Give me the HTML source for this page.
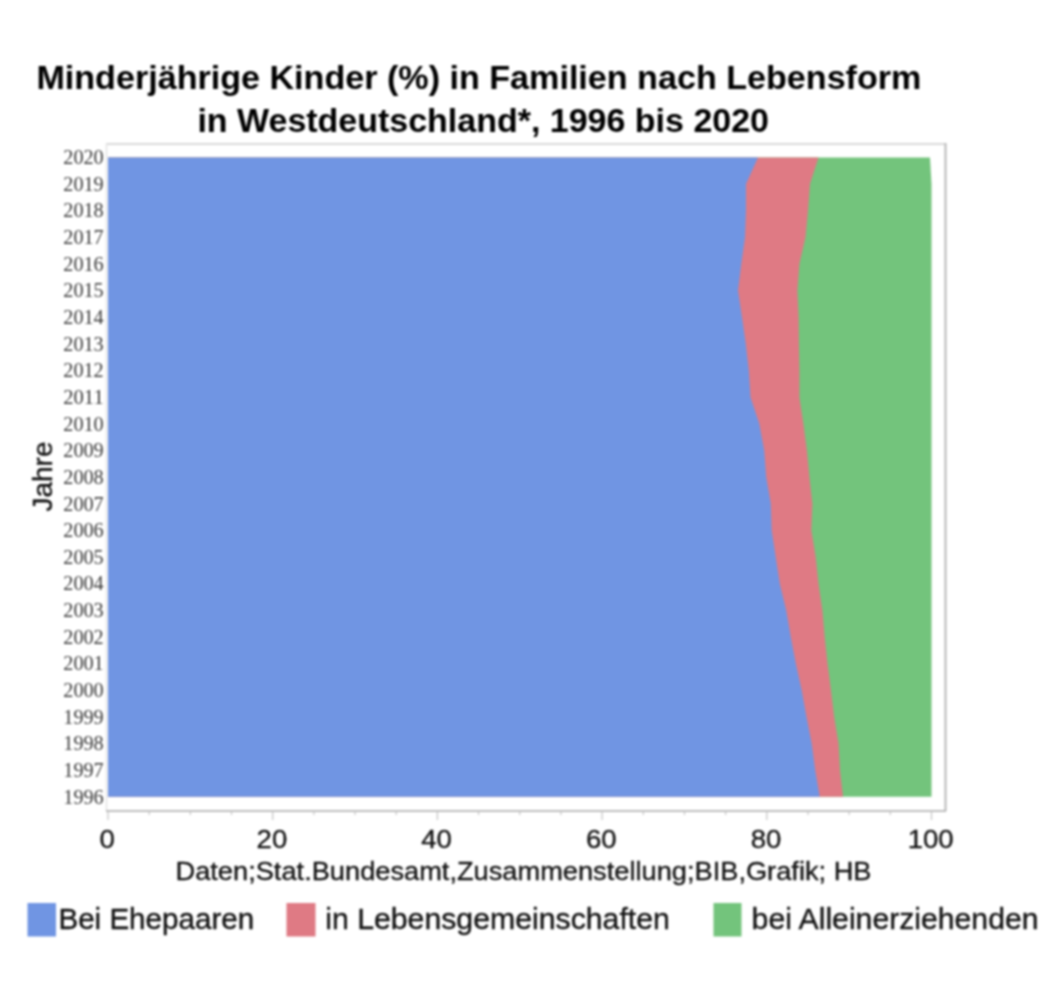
<!DOCTYPE html>
<html><head><meta charset="utf-8">
<style>
html,body{margin:0;padding:0;background:#fff;}
body{width:1062px;height:1008px;overflow:hidden;}
svg{display:block;filter:blur(0.9px);}
text{font-family:"Liberation Sans",sans-serif;}
.title{font-weight:bold;font-size:33px;fill:#000;}
.yr{font-family:"Liberation Serif",serif;font-size:20px;fill:#3a3a3a;}
.xl{font-size:26.5px;fill:#111;stroke:#111;stroke-width:0.3px;}
.note{font-size:26px;fill:#111;stroke:#111;stroke-width:0.3px;}
.lg{font-size:30px;fill:#111;stroke:#111;stroke-width:0.35px;}
</style></head>
<body>
<svg width="1062" height="1008" viewBox="0 0 1062 1008">
<rect x="0" y="0" width="1062" height="1008" fill="#fff"/>
<text class="title" x="36.40" y="89" textLength="885.00" lengthAdjust="spacingAndGlyphs" style="">Minderjährige Kinder (%) in Familien nach Lebensform</text>
<text class="title" x="197.40" y="132" textLength="571.60" lengthAdjust="spacingAndGlyphs" style="">in Westdeutschland*, 1996 bis 2020</text>
<line x1="106" y1="144" x2="946" y2="144" stroke="#d9d9d9" stroke-width="2"/>
<line x1="106.5" y1="143" x2="106.5" y2="811" stroke="#e4e4e4" stroke-width="1.5"/>
<line x1="945.5" y1="143" x2="945.5" y2="811" stroke="#b8b8b8" stroke-width="2"/>
<polygon points="108.0,157.4 930.0,157.40 931.5,184.04 931.5,210.68 931.5,237.32 931.5,263.97 931.5,290.61 931.5,317.25 931.5,343.89 931.5,370.53 931.5,397.17 931.5,423.82 931.5,450.46 931.5,477.10 931.5,503.74 931.5,530.38 931.5,557.02 931.5,583.67 931.5,610.31 931.5,636.95 931.5,663.59 931.5,690.23 931.5,716.88 931.5,743.52 931.5,770.16 931.5,796.80 108.0,796.8" fill="#73c47c"/>
<polygon points="108.0,157.4 818.5,157.40 810.0,184.04 808.0,210.68 805.5,237.32 799.4,263.97 797.4,290.61 798.6,317.25 798.9,343.89 799.4,370.53 799.4,397.17 803.4,423.82 806.9,450.46 809.4,477.10 812.4,503.74 811.4,530.38 815.7,557.02 818.5,583.67 822.4,610.31 824.7,636.95 827.5,663.59 831.0,690.23 834.2,716.88 838.5,743.52 840.0,770.16 843.0,796.80 108.0,796.8" fill="#df7a84"/>
<polygon points="108.0,157.4 758.0,157.40 746.0,184.04 746.0,210.68 745.0,237.32 741.3,263.97 738.0,290.61 742.0,317.25 745.8,343.89 748.8,370.53 750.5,397.17 759.3,423.82 764.2,450.46 766.2,477.10 770.8,503.74 771.7,530.38 775.7,557.02 779.8,583.67 786.2,610.31 790.8,636.95 795.8,663.59 801.7,690.23 806.5,716.88 811.7,743.52 815.2,770.16 819.7,796.80 108.0,796.8" fill="#7095e3"/>
<line x1="106" y1="811" x2="946" y2="811" stroke="#a8a8a8" stroke-width="1.6"/>
<g stroke="#c4c4c4" stroke-width="1.2">
<line x1="108.00" y1="811" x2="108.00" y2="820" />
<line x1="149.18" y1="811" x2="149.18" y2="815" />
<line x1="190.35" y1="811" x2="190.35" y2="815" />
<line x1="231.53" y1="811" x2="231.53" y2="815" />
<line x1="272.70" y1="811" x2="272.70" y2="820" />
<line x1="313.88" y1="811" x2="313.88" y2="815" />
<line x1="355.05" y1="811" x2="355.05" y2="815" />
<line x1="396.23" y1="811" x2="396.23" y2="815" />
<line x1="437.40" y1="811" x2="437.40" y2="820" />
<line x1="478.57" y1="811" x2="478.57" y2="815" />
<line x1="519.75" y1="811" x2="519.75" y2="815" />
<line x1="560.92" y1="811" x2="560.92" y2="815" />
<line x1="602.10" y1="811" x2="602.10" y2="820" />
<line x1="643.27" y1="811" x2="643.27" y2="815" />
<line x1="684.45" y1="811" x2="684.45" y2="815" />
<line x1="725.62" y1="811" x2="725.62" y2="815" />
<line x1="766.80" y1="811" x2="766.80" y2="820" />
<line x1="807.98" y1="811" x2="807.98" y2="815" />
<line x1="849.15" y1="811" x2="849.15" y2="815" />
<line x1="890.33" y1="811" x2="890.33" y2="815" />
<line x1="931.50" y1="811" x2="931.50" y2="820" />
</g>
<g text-anchor="end">
<text x="103.70" y="164.20" class="yr" textLength="40.40" lengthAdjust="spacingAndGlyphs">2020</text>
<text x="103.70" y="190.84" class="yr" textLength="40.40" lengthAdjust="spacingAndGlyphs">2019</text>
<text x="103.70" y="217.48" class="yr" textLength="40.40" lengthAdjust="spacingAndGlyphs">2018</text>
<text x="103.70" y="244.12" class="yr" textLength="40.40" lengthAdjust="spacingAndGlyphs">2017</text>
<text x="103.70" y="270.77" class="yr" textLength="40.40" lengthAdjust="spacingAndGlyphs">2016</text>
<text x="103.70" y="297.41" class="yr" textLength="40.40" lengthAdjust="spacingAndGlyphs">2015</text>
<text x="103.70" y="324.05" class="yr" textLength="40.40" lengthAdjust="spacingAndGlyphs">2014</text>
<text x="103.70" y="350.69" class="yr" textLength="40.40" lengthAdjust="spacingAndGlyphs">2013</text>
<text x="103.70" y="377.33" class="yr" textLength="40.40" lengthAdjust="spacingAndGlyphs">2012</text>
<text x="103.70" y="403.97" class="yr" textLength="40.40" lengthAdjust="spacingAndGlyphs">2011</text>
<text x="103.70" y="430.62" class="yr" textLength="40.40" lengthAdjust="spacingAndGlyphs">2010</text>
<text x="103.70" y="457.26" class="yr" textLength="40.40" lengthAdjust="spacingAndGlyphs">2009</text>
<text x="103.70" y="483.90" class="yr" textLength="40.40" lengthAdjust="spacingAndGlyphs">2008</text>
<text x="103.70" y="510.54" class="yr" textLength="40.40" lengthAdjust="spacingAndGlyphs">2007</text>
<text x="103.70" y="537.18" class="yr" textLength="40.40" lengthAdjust="spacingAndGlyphs">2006</text>
<text x="103.70" y="563.82" class="yr" textLength="40.40" lengthAdjust="spacingAndGlyphs">2005</text>
<text x="103.70" y="590.47" class="yr" textLength="40.40" lengthAdjust="spacingAndGlyphs">2004</text>
<text x="103.70" y="617.11" class="yr" textLength="40.40" lengthAdjust="spacingAndGlyphs">2003</text>
<text x="103.70" y="643.75" class="yr" textLength="40.40" lengthAdjust="spacingAndGlyphs">2002</text>
<text x="103.70" y="670.39" class="yr" textLength="40.40" lengthAdjust="spacingAndGlyphs">2001</text>
<text x="103.70" y="697.03" class="yr" textLength="40.40" lengthAdjust="spacingAndGlyphs">2000</text>
<text x="103.70" y="723.67" class="yr" textLength="40.40" lengthAdjust="spacingAndGlyphs">1999</text>
<text x="103.70" y="750.32" class="yr" textLength="40.40" lengthAdjust="spacingAndGlyphs">1998</text>
<text x="103.70" y="776.96" class="yr" textLength="40.40" lengthAdjust="spacingAndGlyphs">1997</text>
<text x="103.70" y="803.60" class="yr" textLength="40.40" lengthAdjust="spacingAndGlyphs">1996</text>
</g>
<text x="52" y="476.5" transform="rotate(-90 52 476.5)" text-anchor="middle" style="font-size:28px;fill:#111;stroke:#111;stroke-width:0.35px">Jahre</text>
<text x="99.54" y="847.6" class="xl" textLength="15.32" lengthAdjust="spacingAndGlyphs">0</text>
<text x="256.58" y="847.6" class="xl" textLength="30.65" lengthAdjust="spacingAndGlyphs">20</text>
<text x="421.28" y="847.6" class="xl" textLength="30.65" lengthAdjust="spacingAndGlyphs">40</text>
<text x="585.98" y="847.6" class="xl" textLength="30.65" lengthAdjust="spacingAndGlyphs">60</text>
<text x="750.68" y="847.6" class="xl" textLength="30.65" lengthAdjust="spacingAndGlyphs">80</text>
<text x="907.71" y="847.6" class="xl" textLength="45.97" lengthAdjust="spacingAndGlyphs">100</text>
<text class="note" x="175.50" y="879.8" textLength="696.00" lengthAdjust="spacingAndGlyphs" style="">Daten;Stat.Bundesamt,Zusammenstellung;BIB,Grafik; HB</text>
<rect x="27.5" y="903" width="28.5" height="33.5" fill="#7095e3"/>
<rect x="286.5" y="903" width="29" height="33.5" fill="#df7a84"/>
<rect x="713.5" y="903" width="28" height="33.5" fill="#73c47c"/>
<text class="lg" x="58.40" y="929" textLength="195.80" lengthAdjust="spacingAndGlyphs" style="">Bei Ehepaaren</text>
<text class="lg" x="325.20" y="929" textLength="344.70" lengthAdjust="spacingAndGlyphs" style="">in Lebensgemeinschaften</text>
<text class="lg" x="751.60" y="929" textLength="286.90" lengthAdjust="spacingAndGlyphs" style="">bei Alleinerziehenden</text>
</svg>
</body></html>
